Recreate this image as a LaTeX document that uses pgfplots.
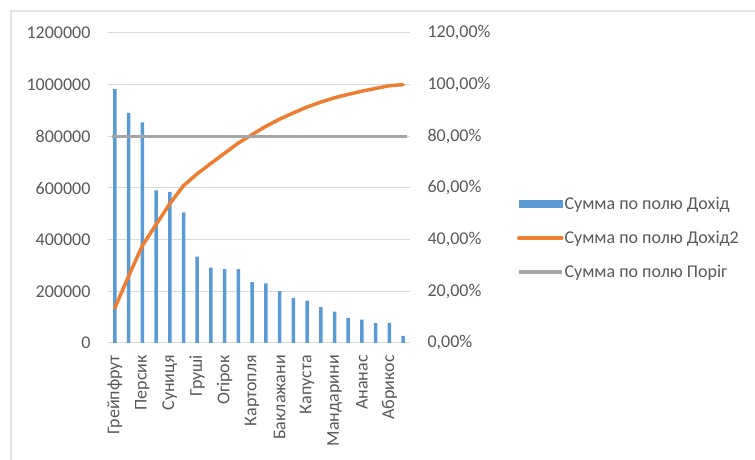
\documentclass[border=0pt]{standalone}
\usepackage{pgfplots}
\pgfplotsset{compat=1.18}
\usepackage{fontspec}
\setmainfont{Carlito}
\definecolor{cbar}{HTML}{5B9BD5}
\definecolor{corange}{HTML}{ED7D31}
\definecolor{cgrey}{HTML}{A5A5A5}
\definecolor{cgrid}{HTML}{D9D9D9}
\definecolor{ctext}{HTML}{595959}
\definecolor{cframe}{HTML}{E3E3E3}
\pgfplotsset{
  common/.style={
    at={(108pt,117pt)}, anchor=south west, scale only axis,
    width=302pt, height=310pt, xmin=-0.5, xmax=21.5,
    major tick length=0pt,
    tick label style={font=\fontsize{18}{20}\selectfont, text=ctext},
    /pgf/number format/assume math mode=true,
  }
}
\begin{document}
\begin{tikzpicture}[x=1pt,y=1pt]
\useasboundingbox (0,0) rectangle (755,460);
\draw[cframe, line width=1.2pt] (11,-5) -- (11,449) -- (760,449);
\begin{axis}[common,
  ymin=0, ymax=1200000, ytick={0,200000,400000,600000,800000,1000000,1200000},
  scaled y ticks=false,
  yticklabel style={/pgf/number format/.cd, fixed, 1000 sep={}},
  yticklabel shift=14pt,
  axis x line*=bottom, axis y line*=left,
  x axis line style={draw=cgrid, line width=1pt, -},
  y axis line style={draw=none},
  ymajorgrids, grid style={draw=cgrid, line width=1pt},
  xtick={0,2,...,20},
  xticklabels={Грейпфрут,Персик,Суниця,Груші,Огірок,Картопля,Баклажани,Капуста,Мандарини,Ананас,Абрикос},
  xticklabel style={rotate=90, anchor=east, inner sep=0pt},
  xticklabel shift=12pt,
]
\addplot[ybar, bar width=3.5pt, fill=cbar, draw=none] coordinates {
(0,983000) (1,891000) (2,854000) (3,591000) (4,585000) (5,506000)
(6,334000) (7,292000) (8,286000) (9,286000) (10,236000) (11,231000)
(12,201000) (13,175000) (14,164000) (15,139000) (16,121000) (17,96000)
(18,90000) (19,77000) (20,77000) (21,28000)};
\end{axis}
\begin{axis}[common,
  ymin=0, ymax=1.2, ytick={0,0.2,0.4,0.6,0.8,1.0,1.2},
  yticklabels={{0,00\%},{20,00\%},{40,00\%},{60,00\%},{80,00\%},{100,00\%},{120,00\%}},
  yticklabel style={anchor=west},
  yticklabel shift=14pt,
  axis y line*=right, axis x line=none,
  y axis line style={draw=none},
  legend image code/.code={\draw (0pt,0pt) -- (43pt,0pt);},
  legend cell align=left,
  legend style={at={(1.354,0.339)}, anchor=west, draw=none, fill=none,
    inner sep=0pt, row sep=18pt, font=\fontsize{18}{20}\selectfont, text=ctext,
    nodes={inner sep=1pt}},
]
\addlegendimage{legend image code/.code={\fill[cbar] (0pt,-3.5pt) rectangle (43pt,3.5pt);}}
\addlegendentry{Сумма по полю Дохід}
\addplot[corange, line width=3.5pt, line join=round, line cap=round] coordinates {
(0,0.1357) (1,0.2587) (2,0.3766) (3,0.4582) (4,0.5390) (5,0.6089)
(6,0.6550) (7,0.6953) (8,0.7348) (9,0.7743) (10,0.8068) (11,0.8387)
(12,0.8665) (13,0.8907) (14,0.9133) (15,0.9325) (16,0.9492) (17,0.9624)
(18,0.9749) (19,0.9855) (20,0.9961) (21,1.0000)};
\addlegendentry{Сумма по полю Дохід2}
\addplot[cgrey, line width=3.5pt] coordinates {
(-0.2,0.8) (0,0.8) (1,0.8) (2,0.8) (3,0.8) (4,0.8) (5,0.8) (6,0.8) (7,0.8) (8,0.8)
(9,0.8) (10,0.8) (11,0.8) (12,0.8) (13,0.8) (14,0.8) (15,0.8) (16,0.8)
(17,0.8) (18,0.8) (19,0.8) (20,0.8) (21,0.8) (21.3,0.8)};
\addlegendentry{Сумма по полю Поріг}
\end{axis}
\end{tikzpicture}
\end{document}
